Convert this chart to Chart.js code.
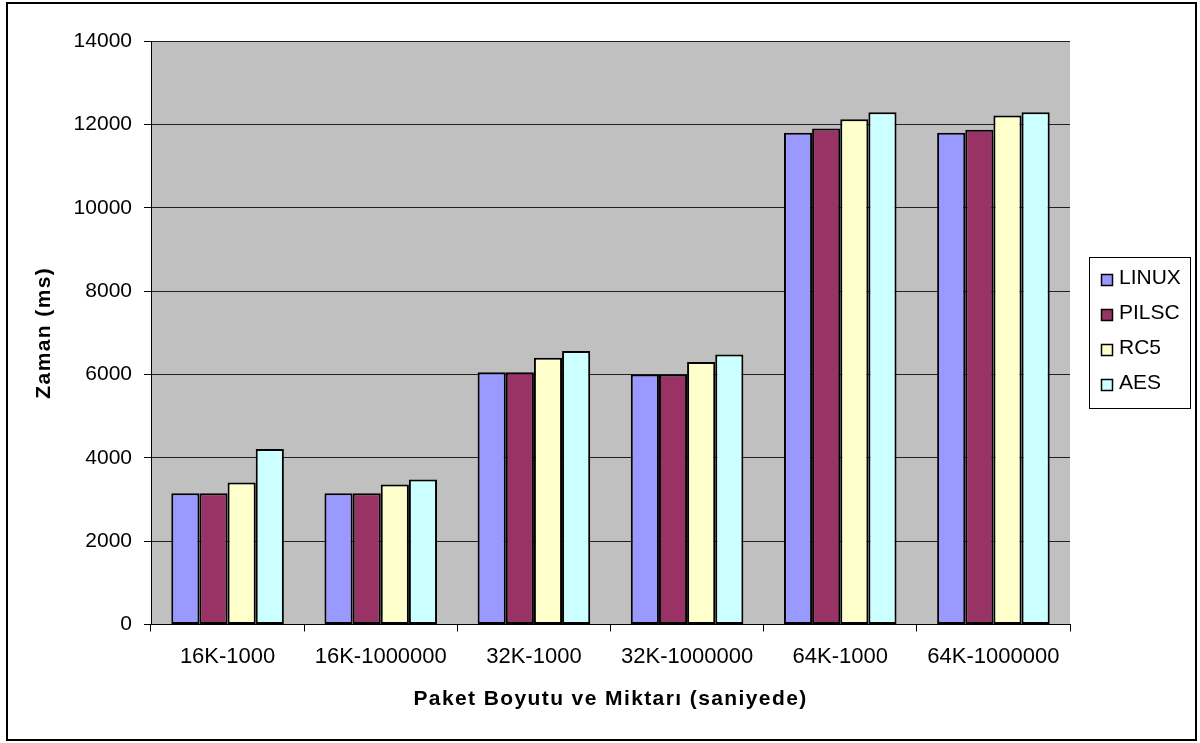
<!DOCTYPE html>
<html>
<head>
<meta charset="utf-8">
<script src="https://cdn.jsdelivr.net/npm/chart.js@4/dist/chart.umd.min.js"></script>
<style>
  html, body { margin: 0; padding: 0; background: #fff; }
  #wrap { position: relative; width: 1200px; height: 743px; }
</style>
</head>
<body>
<div id="wrap"><canvas id="c" width="1200" height="743"></canvas></div>
<script>
// Package size / count categories
const categories = ['16K-1000', '16K-1000000', '32K-1000', '32K-1000000', '64K-1000', '64K-1000000'];

// Measured times (ms) per method
const linux = [3150, 3150, 6050, 6000, 11800, 11800];
const pilsc = [3150, 3150, 6050, 6000, 11900, 11870];
const rc5   = [3410, 3360, 6400, 6300, 12120, 12210];
const aes   = [4210, 3480, 6560, 6480, 12290, 12290];

const seriesNames = ['LINUX', 'PILSC', 'RC5', 'AES'];
const seriesColors = ['#9999FF', '#993366', '#FFFFCC', '#CCFFFF'];

const yTickMin = 0;
const yTickMax = 14000;
const yTickStep = 2000;

const FONT = "'Liberation Sans', Arial, Helvetica, sans-serif";

// Gray plot background and the outer frame
const framePlugin = {
  id: 'frame',
  beforeDraw(chart) {
    const { ctx, chartArea: a } = chart;
    ctx.save();
    ctx.fillStyle = '#fff';
    ctx.fillRect(0, 0, chart.width, chart.height);
    ctx.fillStyle = '#C0C0C0';
    ctx.fillRect(a.left, a.top, a.right - a.left, a.bottom - a.top);
    ctx.restore();
  },
  afterDraw(chart) {
    const { ctx } = chart;
    ctx.save();
    ctx.strokeStyle = '#000';
    ctx.lineWidth = 2;
    ctx.strokeRect(7, 3, 1189, 737);
    ctx.restore();
  }
};

// Slightly wider letter spacing for the bold axis titles
const titleSpacingPlugin = {
  id: 'titleSpacing',
  beforeDraw(chart) {
    ['x', 'y'].forEach(id => {
      const scale = chart.scales[id];
      if (!scale || scale._spacedTitle) return;
      const orig = scale.drawTitle;
      scale.drawTitle = function () {
        const ctx = this.ctx;
        ctx.save();
        ctx.letterSpacing = '1.4px';
        orig.call(this);
        ctx.restore();
      };
      scale._spacedTitle = true;
    });
  }
};

// Boxed legend at the right of the plot
const boxLegendPlugin = {
  id: 'boxLegend',
  afterDraw(chart) {
    const { ctx } = chart;
    const x0 = 1089.5, y0 = 257.5, w = 101, h = 151;
    ctx.save();
    ctx.fillStyle = '#fff';
    ctx.fillRect(x0, y0, w, h);
    ctx.strokeStyle = '#000';
    ctx.lineWidth = 1;
    ctx.strokeRect(x0, y0, w, h);
    ctx.font = '21px ' + FONT;
    ctx.textBaseline = 'middle';
    ctx.textAlign = 'left';
    chart.data.datasets.forEach((ds, i) => {
      const cy = 278 + i * 35;
      ctx.fillStyle = ds.backgroundColor;
      ctx.fillRect(1101.5, cy - 3.5, 11, 11);
      ctx.strokeStyle = '#000';
      ctx.lineWidth = 1.5;
      ctx.strokeRect(1101.5, cy - 3.5, 11, 11);
      ctx.fillStyle = '#000';
      ctx.fillText(ds.label, 1119, cy);
    });
    ctx.restore();
  }
};

const seriesData = [linux, pilsc, rc5, aes];

new Chart(document.getElementById('c'), {
  type: 'bar',
  data: {
    labels: categories,
    datasets: seriesNames.map((name, i) => ({
      label: name,
      data: seriesData[i],
      backgroundColor: seriesColors[i],
      borderColor: '#000',
      borderWidth: 2,
      borderSkipped: false,
      categoryPercentage: 0.735,
      barPercentage: 1
    }))
  },
  options: {
    responsive: false,
    animation: false,
    devicePixelRatio: 1,
    layout: { padding: { top: 41, right: 130, bottom: 0, left: 0 } },
    plugins: {
      legend: { display: false },
      tooltip: { enabled: false },
      title: { display: false }
    },
    scales: {
      x: {
        afterFit(scale) { scale.height = 118.5; },
        grid: {
          offset: true,
          drawOnChartArea: false,
          drawTicks: true,
          tickLength: 7,
          color: '#000',
          tickColor: '#000'
        },
        border: { display: true, color: '#000', width: 1 },
        ticks: {
          color: '#000',
          padding: 12,
          maxRotation: 0,
          autoSkip: false,
          font: { family: FONT, size: 22 }
        },
        title: {
          display: true,
          text: 'Paket Boyutu ve Miktarı (saniyede)',
          color: '#000',
          font: { family: FONT, size: 21, weight: 'bold' },
          padding: { top: 0, bottom: 31 }
        }
      },
      y: {
        min: yTickMin,
        max: yTickMax,
        afterFit(scale) { scale.width = 151; },
        grid: {
          color: '#202020',
          tickColor: '#000',
          tickLength: 7,
          lineWidth: 1
        },
        border: { display: true, color: '#000', width: 1 },
        ticks: {
          stepSize: yTickStep,
          color: '#000',
          padding: 12,
          font: { family: FONT, size: 21 },
          callback: v => String(v)
        },
        title: {
          display: true,
          text: 'Zaman (ms)',
          color: '#000',
          font: { family: FONT, size: 21, weight: 'bold' },
          padding: { top: 32, bottom: 0 }
        }
      }
    }
  },
  plugins: [framePlugin, titleSpacingPlugin, boxLegendPlugin]
});
</script>
</body>
</html>
